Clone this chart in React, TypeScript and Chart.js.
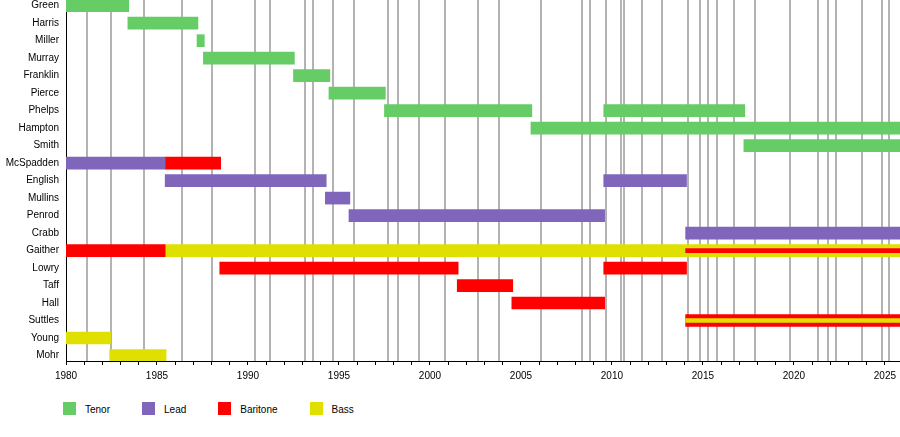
import React, { useEffect, useRef } from 'react';
import { Chart, registerables } from 'chart.js';

Chart.register(...registerables);

type Stint = [string, number, number];

// right edge of the timeline (mid-late 2025)
const NOW = 2025.83;

const members = [
    'Green', 'Harris', 'Miller', 'Murray', 'Franklin', 'Pierce', 'Phelps', 'Hampton', 'Smith',
    'McSpadden', 'English', 'Mullins', 'Penrod', 'Crabb',
    'Gaither', 'Lowry', 'Taff', 'Hall', 'Suttles', 'Young', 'Mohr',
];

const tenor: Stint[] = [
    ['Green', 1980, 1983.45],
    ['Harris', 1983.4, 1987.25],
    ['Miller', 1987.2, 1987.6],
    ['Murray', 1987.55, 1992.55],
    ['Franklin', 1992.5, 1994.5],
    ['Pierce', 1994.45, 1997.55],
    ['Phelps', 1997.5, 2005.6],
    ['Phelps', 2009.55, 2017.3],
    ['Hampton', 2005.55, NOW],
    ['Smith', 2017.25, NOW],
];

const lead: Stint[] = [
    ['McSpadden', 1980, 1985.45],
    ['English', 1985.45, 1994.3],
    ['English', 2009.55, 2014.1],
    ['Mullins', 1994.25, 1995.6],
    ['Penrod', 1995.55, 2009.6],
    ['Crabb', 2014.05, NOW],
];

const baritone: Stint[] = [
    ['McSpadden', 1985.45, 1988.5],
    ['Gaither', 1980, 1985.45],
    ['Lowry', 1988.45, 2001.55],
    ['Lowry', 2009.55, 2014.1],
    ['Taff', 2001.5, 2004.55],
    ['Hall', 2004.5, 2009.6],
    ['Suttles', 2014.05, NOW],
];

const bass: Stint[] = [
    ['Gaither', 1985.45, NOW],
    ['Young', 1980, 1982.45],
    ['Mohr', 1982.4, 1985.5],
];

// thin stripes for members singing two parts at once
const baritoneStripe: Stint[] = [['Gaither', 2014.05, NOW]];
const bassStripe: Stint[] = [['Suttles', 2014.05, NOW]];

// album release dates (grey lines)
const albums = [
    1981.15, 1982.5, 1984.3, 1986.35, 1988.0, 1990.4, 1991.2, 1993.15, 1993.6, 1994.65,
    1995.8, 1997.7, 1998.25, 1999.4, 2000.8, 2002.65, 2003.8, 2006.1, 2008.35, 2008.8,
    2009.7, 2010.5, 2010.65, 2011.65, 2012.75, 2014.2, 2014.85, 2015.3, 2015.8, 2016.7,
    2017.85, 2019.8, 2021.3, 2021.9, 2022.3, 2023.75, 2024.85, 2025.25,
];

const parts = ['Tenor', 'Lead', 'Baritone', 'Bass'];
const partColors = ['#66cc66', '#7f66bb', '#ff0000', '#e0e000'];

const FONT = '"Liberation Sans", Arial, sans-serif';

const toPoints = (list: Stint[]) =>
    list.map(([name, from, to]) => ({ x: [from, to], y: members.indexOf(name) }));

const Timeline: React.FC = () => {
    const canvasRef = useRef<HTMLCanvasElement>(null);

    useEffect(() => {
        const ctx = canvasRef.current?.getContext('2d');
        if (!ctx) return;

        const chart = new Chart(ctx, {
            type: 'bar',
            data: {
                datasets: [
                    { label: 'Tenor', data: toPoints(tenor), backgroundColor: partColors[0] },
                    { label: 'Lead', data: toPoints(lead), backgroundColor: partColors[1] },
                    { label: 'Baritone', data: toPoints(baritone), backgroundColor: partColors[2] },
                    { label: 'Bass', data: toPoints(bass), backgroundColor: partColors[3] },
                    // lower order = drawn on top
                    { label: 'Baritone', data: toPoints(baritoneStripe), backgroundColor: partColors[2], barThickness: 4, order: -1 },
                    { label: 'Bass', data: toPoints(bassStripe), backgroundColor: partColors[3], barThickness: 4, order: -1 },
                ] as any,
            },
            options: {
                animation: false,
                responsive: false,
                indexAxis: 'y',
                layout: { padding: 0 },
                datasets: {
                    bar: { grouped: false, barThickness: 12, borderWidth: 0 },
                },
                plugins: {
                    legend: { display: false },
                    tooltip: { enabled: false },
                },
                scales: {
                    x: {
                        type: 'linear',
                        position: 'bottom',
                        min: 1980,
                        max: NOW,
                        grid: { drawOnChartArea: false, drawTicks: true, tickLength: 4, color: '#000' },
                        border: { color: '#000' },
                        ticks: {
                            stepSize: 1,
                            includeBounds: false,
                            autoSkip: false,
                            maxRotation: 0,
                            minRotation: 0,
                            padding: 5,
                            color: '#000',
                            font: { family: FONT, size: 10 },
                            callback: (v: any) => (v % 5 === 0 ? String(v) : ''),
                        },
                        afterFit: (s: any) => {
                            s.paddingLeft = 0;
                            s.paddingRight = 0;
                        },
                    },
                    x2: {
                        type: 'linear',
                        position: 'top',
                        min: 1980,
                        max: NOW,
                        afterBuildTicks: (s: any) => {
                            s.ticks = albums.map((v) => ({ value: v }));
                        },
                        ticks: { display: false },
                        grid: { color: '#b3b3b3', lineWidth: 2, drawTicks: false },
                        border: { display: false },
                    },
                    y: {
                        type: 'linear',
                        reverse: true,
                        min: -0.326,
                        max: 20.314,
                        offset: false,
                        grid: { display: false, drawTicks: false, offset: false },
                        border: { color: '#000' },
                        afterBuildTicks: (s: any) => {
                            s.ticks = members.map((_, i) => ({ value: i }));
                        },
                        ticks: {
                            autoSkip: false,
                            padding: 7,
                            color: '#000',
                            font: { family: FONT, size: 10 },
                            callback: (v: any) => members[v] ?? '',
                        },
                        afterFit: (s: any) => {
                            s.width = 66;
                            s.paddingTop = 0;
                            s.paddingBottom = 0;
                        },
                    },
                } as any,
            },
        });

        return () => chart.destroy();
    }, []);

    return <canvas ref={canvasRef} width={900} height={387} />;
};

const App: React.FC = () => (
    <div style={{ position: 'absolute', left: 0, top: 0, width: 900, height: 437, background: '#fff' }}>
        <Timeline />
        <div
            style={{
                position: 'absolute',
                left: 63,
                top: 402,
                display: 'flex',
                alignItems: 'center',
                gap: 32,
                font: `10px ${FONT}`,
                color: '#000',
            }}
        >
            {parts.map((p, i) => (
                <div key={p} style={{ display: 'flex', alignItems: 'center' }}>
                    <span style={{ width: 13, height: 13, background: partColors[i], marginRight: 9 }} />
                    <span style={{ position: 'relative', top: 1 }}>{p}</span>
                </div>
            ))}
        </div>
    </div>
);

export default App;
